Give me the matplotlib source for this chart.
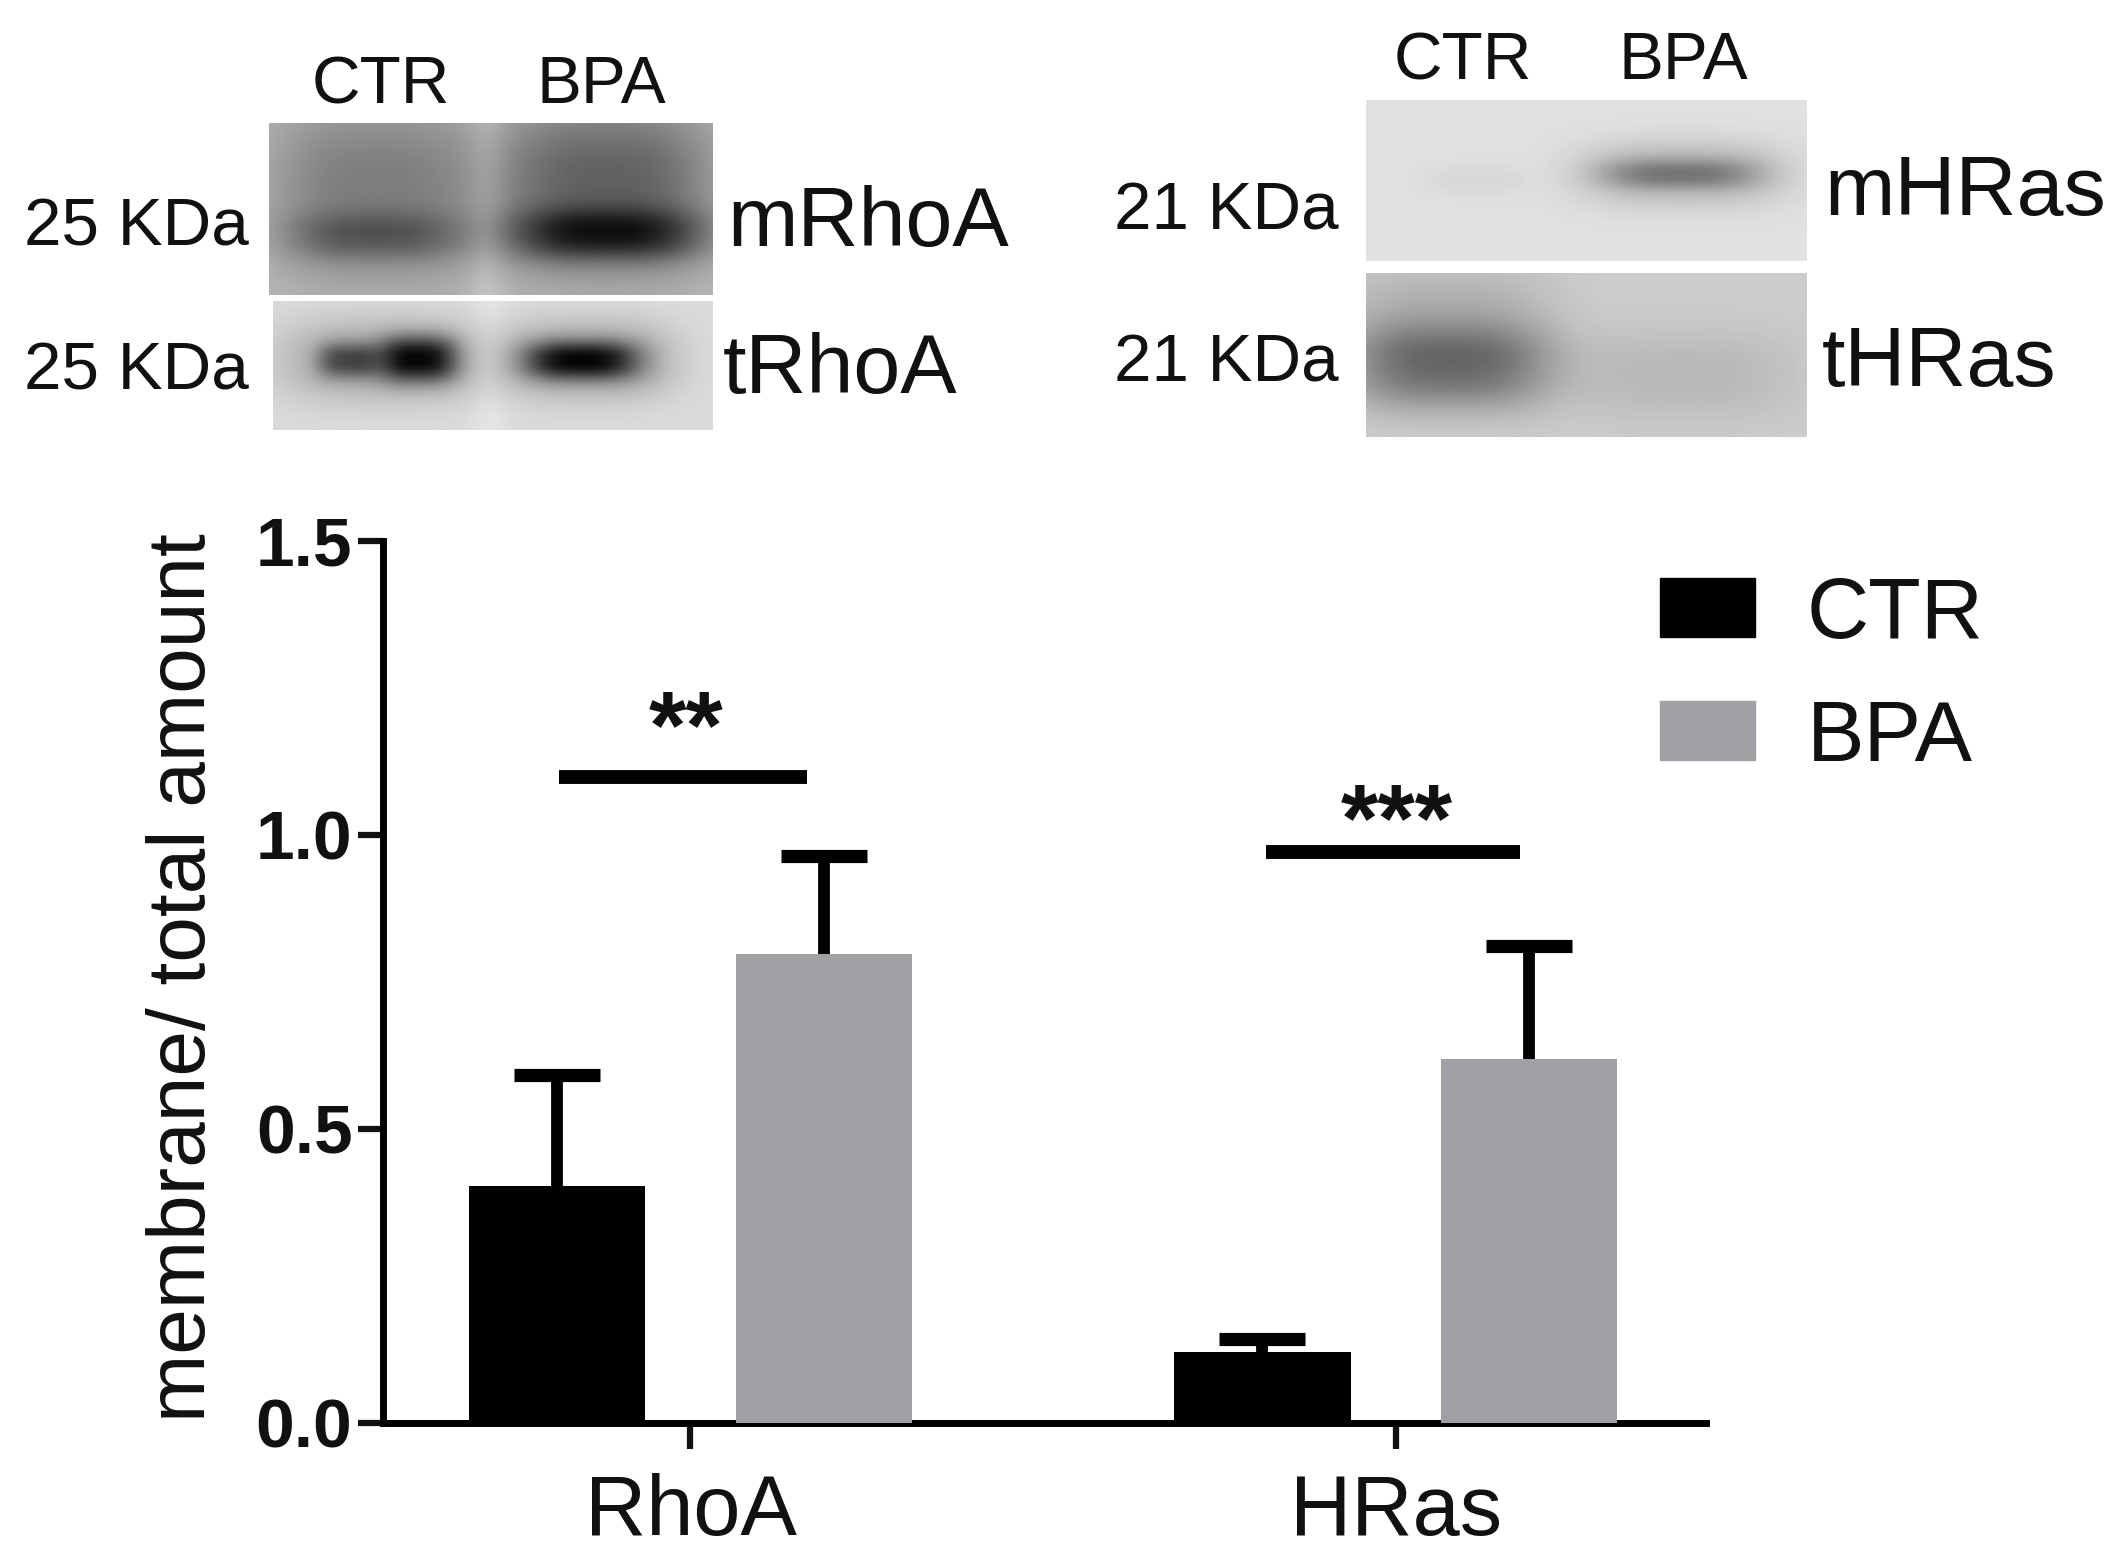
import numpy as np
import matplotlib
matplotlib.use("Agg")
import matplotlib.pyplot as plt
from matplotlib.patches import Patch

plt.rcParams['font.family'] = ['Liberation Sans', 'DejaVu Sans']

# ---- chart data ----
groups = ["RhoA", "HRas"]
series = ["CTR", "BPA"]
ctr_mean = [0.403, 0.120]
bpa_mean = [0.798, 0.619]
ctr_err = [0.188, 0.023]
bpa_err = [0.166, 0.193]
sig_labels = ["**", "***"]
sig_heights = [1.099, 0.971]
y_ticks = [0.0, 0.5, 1.0, 1.5]
blot_lanes = ["CTR", "BPA"]
rhoa_size = "25 KDa"
hras_size = "21 KDa"

W, H = 2120, 1560
fig = plt.figure(figsize=(W / 100, H / 100), dpi=100, facecolor="white")


def px_axes(x0, y0, x1, y1, **kw):
    return fig.add_axes([x0 / W, 1 - y1 / H, (x1 - x0) / W, (y1 - y0) / H], **kw)


def px_text(x, y, s, **kw):
    kw.setdefault("ha", "center")
    kw.setdefault("va", "center")
    kw.setdefault("color", "#111111")
    fig.text(x / W, 1 - y / H, s, **kw)


def blot(box, bg, spots, gap=None):
    """Draw a smooth, schematic gel panel: a background grey minus soft lanes and bands."""
    ax = px_axes(*box)
    h, w = box[3] - box[1], box[2] - box[0]
    yy, xx = np.mgrid[0:1:h * 1j, 0:1:w * 1j]
    img = np.full((h, w), float(bg))
    for cx, cy, sx, sy, amp in spots:
        img -= amp * np.exp(-np.abs((xx - cx) / sx) ** 3 - np.abs((yy - cy) / sy) ** 2.4)
    if gap is not None:
        img += gap[1] * np.exp(-((xx - gap[0]) / 0.045) ** 2)
    ax.imshow(np.clip(img, 0, 1), cmap="gray", vmin=0, vmax=1, aspect="auto",
              interpolation="bilinear")
    ax.axis("off")


# ---- blot panels (schematic images) ----
blot((269, 123, 712, 295), 0.74,
     [(0.24, 0.40, 0.25, 0.55, 0.25), (0.24, 0.66, 0.20, 0.14, 0.20),
      (0.76, 0.38, 0.25, 0.52, 0.36), (0.76, 0.65, 0.22, 0.15, 0.38)], gap=(0.49, 0.07))
blot((273, 301, 712, 430), 0.86,
     [(0.25, 0.46, 0.24, 0.32, 0.22), (0.17, 0.46, 0.07, 0.14, 0.38),
      (0.33, 0.45, 0.09, 0.18, 0.62), (0.72, 0.46, 0.19, 0.30, 0.26),
      (0.70, 0.46, 0.13, 0.15, 0.58)], gap=(0.49, 0.04))
blot((1366, 100, 1807, 261), 0.88,
     [(0.25, 0.50, 0.12, 0.10, 0.035), (0.72, 0.46, 0.23, 0.20, 0.20),
      (0.71, 0.46, 0.18, 0.09, 0.22)])
blot((1366, 273, 1807, 437), 0.80,
     [(0.18, 0.28, 0.24, 0.32, 0.12), (0.19, 0.58, 0.23, 0.26, 0.34),
      (0.72, 0.62, 0.26, 0.28, 0.08)])

# ---- blot labels ----
px_text(381, 86, blot_lanes[0], fontsize=48.5)
px_text(601, 86, blot_lanes[1], fontsize=48.5)
px_text(1463, 62, blot_lanes[0], fontsize=48.5)
px_text(1683, 62, blot_lanes[1], fontsize=48.5)
px_text(136, 229, rhoa_size, fontsize=48.5)
px_text(136, 372, rhoa_size, fontsize=48.5)
px_text(1226, 212, hras_size, fontsize=48.5)
px_text(1226, 365, hras_size, fontsize=48.5)
px_text(727, 224, "mRhoA", ha="left", fontsize=60.8)
px_text(723, 371, "tRhoA", ha="left", fontsize=60.8)
px_text(1824, 193, "mHRas", ha="left", fontsize=60.8)
px_text(1822, 364, "tHRas", ha="left", fontsize=60.8)

# ---- bar chart ----
ax = px_axes(383, 541, 1706, 1423)
x = np.arange(len(groups), dtype=float)
offset, width = 0.189, 0.25
colors = ["#000000", "#a09fa3"]
err_kw = dict(elinewidth=8.5, capsize=31, capthick=9.5, ecolor="black", zorder=2)

ctr_bars = ax.bar(x - offset, ctr_mean, width, color=colors[0], zorder=3,
                  yerr=[[0, 0], ctr_err], error_kw=err_kw)
bpa_bars = ax.bar(x + offset, bpa_mean, width, color=colors[1], zorder=3,
                  yerr=[[0, 0], bpa_err], error_kw=err_kw)
for bars in (ctr_bars, bpa_bars):
    bars.errorbar.lines[1][0].set_visible(False)  # only the upper whisker has a cap

ax.set_xlim(-0.436, 1.440)
ax.set_ylim(0, 1.5)
ax.set_xticks(x, groups, fontsize=61)
ax.set_yticks(y_ticks, [f"{t:.1f}" for t in y_ticks], fontsize=50, fontweight="bold")
ax.tick_params(axis="y", length=18, width=4.5, pad=4, colors="#111111")
ax.tick_params(axis="x", length=19, width=4.5, pad=17, colors="#111111")
for s in ("top", "right"):
    ax.spines[s].set_visible(False)
for s in ("left", "bottom"):
    ax.spines[s].set_linewidth(5)
ax.set_ylabel("membrane/ total amount", fontsize=59, color="#111111")
ax.yaxis.set_label_coords((222 - 383) / 1323, (1423 - 978) / 882)

# ---- significance bars ----
sig_half = [0.176, 0.180]
sig_shift = [-0.0105, -0.004]
star_x = [-0.006, 0.002]
star_y = [0.0, -0.03]
for i, lab in enumerate(sig_labels):
    xc = x[i] + sig_shift[i]
    ax.plot([xc - sig_half[i], xc + sig_half[i]], [sig_heights[i]] * 2, color="black",
            lw=10, solid_capstyle="butt", clip_on=False)
    ax.text(x[i] + star_x[i], sig_heights[i] + star_y[i], lab, ha="center", va="bottom",
            fontsize=69, fontweight="bold", color="#111111", linespacing=1)

# ---- legend ----
ax.legend(handles=[Patch(color=c, label=s) for c, s in zip(colors, series)],
          loc="upper left", bbox_to_anchor=((1660 - 383) / 1323, (1423 - 576) / 882),
          borderaxespad=0, borderpad=0, frameon=False, fontsize=62,
          handlelength=1.10, handleheight=0.68, handletextpad=0.6, labelspacing=0.50,
          labelcolor="#111111")

fig.savefig("out.png", dpi=100, facecolor="white")
